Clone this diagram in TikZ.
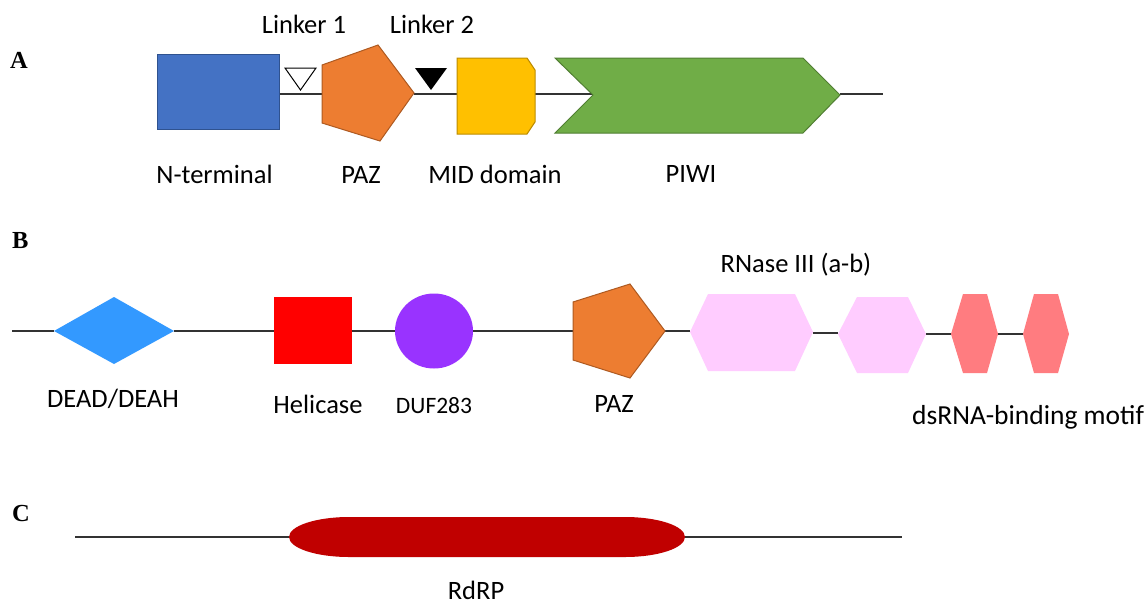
\documentclass[tikz,border=0pt]{standalone}
\usepackage{fontspec}
\setmainfont{Carlito}
\newfontfamily\panelfont{Liberation Serif}
\begin{document}
\begin{tikzpicture}[x=1pt,y=-1pt,
  link/.style={draw=black!80,line width=1.3pt},
  lbl/.style={anchor=base,inner sep=0pt,font=\fontsize{26.5}{31}\selectfont},
  panel/.style={anchor=base west,inner sep=0pt,font=\panelfont\bfseries\fontsize{24.5}{29}\selectfont},
  orangeshape/.style={fill=orangeC,draw=orangeD,line width=1pt},
]
\definecolor{blueC}{HTML}{4472C4}
\definecolor{blueD}{HTML}{2F528F}
\definecolor{orangeC}{HTML}{ED7D31}
\definecolor{orangeD}{HTML}{AE5A21}
\definecolor{yellowC}{HTML}{FFC000}
\definecolor{yellowD}{HTML}{BC8C00}
\definecolor{greenC}{HTML}{70AD47}
\definecolor{greenD}{HTML}{507E32}
\definecolor{diaC}{HTML}{3399FF}
\definecolor{purpC}{HTML}{9933FF}
\definecolor{pinkC}{HTML}{FFCCFF}
\definecolor{salmC}{HTML}{FF7C80}
\definecolor{rdrpC}{HTML}{C00000}
\useasboundingbox[fill=white] (0,0) rectangle (1144,606);

% ---------------- Panel A ----------------
\node[panel] (pA) at (10,68) {A};
\coordinate (nt-e) at (279,94);
\coordinate (pazA-w) at (322,94);
\coordinate (pazA-e) at (414,94);
\coordinate (mid-w) at (457,94);
\coordinate (mid-e) at (535,94);
\coordinate (piwi-w) at (593,94);
\coordinate (piwi-e) at (840,94);
\coordinate (endA) at (883,94);
\draw[link] (nt-e) -- (pazA-w);
\draw[link] (pazA-e) -- (mid-w);
\draw[link] (mid-e) -- (piwi-w);
\draw[link] (piwi-e) -- (endA);

\fill[blueC,draw=blueD,line width=1pt] (157,54) rectangle (279,129);
\draw[fill=white,draw=black,line width=1pt] (285,68) -- (316,68) -- (300.5,90) -- cycle;
\draw[orangeshape] (378,45) -- (414,93) -- (380,141) -- (322,123) -- (322,65) -- cycle;
\fill[black] (415,68) -- (447,68) -- (431,90) -- cycle;
\draw[fill=yellowC,draw=yellowD,line width=1pt] (457,58) -- (527,58) -- (535,70) -- (535,122) -- (527,134) -- (457,134) -- cycle;
\draw[fill=greenC,draw=greenD,line width=1pt] (555,58) -- (803,58) -- (840,95) -- (803,133) -- (555,133) -- (593,95) -- cycle;

\node[lbl] (l1) at (304,33) {Linker 1};
\node[lbl] (l2) at (432,33) {Linker 2};
\node[lbl] (tnt) at (214.5,183) {N-terminal};
\node[lbl] (tpazA) at (361,183) {PAZ};
\node[lbl] (tmid) at (495,183) {MID domain};
\node[lbl] (tpiwi) at (691,182) {PIWI};

% ---------------- Panel B ----------------
\node[panel] (pB) at (12,248) {B};
\coordinate (startB) at (12,331);
\coordinate (dia-w) at (54,331);
\coordinate (dia-e) at (174,331);
\coordinate (hel-w) at (274,331);
\coordinate (hel-e) at (352,331);
\coordinate (duf-w) at (395,331);
\coordinate (duf-e) at (473,331);
\coordinate (pazB-w) at (573,331);
\coordinate (pazB-e) at (665,331);
\coordinate (r1-w) at (690,331);
\coordinate (r1-e) at (813,333);
\coordinate (r2-w) at (838,333);
\coordinate (r2-e) at (926,334);
\coordinate (d1-w) at (951,334);
\coordinate (d1-e) at (998,334);
\coordinate (d2-w) at (1023,334);
\draw[link] (startB) -- (dia-w);
\draw[link] (dia-e) -- (hel-w);
\draw[link] (hel-e) -- (duf-w);
\draw[link] (duf-e) -- (pazB-w);
\draw[link] (pazB-e) -- (r1-w);
\draw[link] (r1-e) -- (r2-w);
\draw[link] (r2-e) -- (d1-w);
\draw[link] (d1-e) -- (d2-w);

\fill[diaC] (54,331) -- (114,297) -- (174,331) -- (114,364) -- cycle;
\fill[red] (274,297) rectangle (352,364);
\fill[purpC] (434,331) ellipse [x radius=39, y radius=37.5];
\draw[orangeshape] (630,284) -- (665,331) -- (630,378) -- (573,360) -- (573,302) -- cycle;
\fill[pinkC] (690,332) -- (708,294) -- (795,294) -- (813,332) -- (795,371) -- (708,371) -- cycle;
\fill[pinkC] (838,334) -- (857,297) -- (908,297) -- (926,334) -- (908,373) -- (857,373) -- cycle;
\fill[salmC] (951,334) -- (963,294) -- (987,294) -- (998,334) -- (987,373) -- (963,373) -- cycle;
\fill[salmC] (1023,334) -- (1034,294) -- (1058,294) -- (1069,334) -- (1058,373) -- (1034,373) -- cycle;

\node[lbl] (tdead) at (113,407) {DEAD/DEAH};
\node[lbl] (thel) at (318,413) {Helicase};
\node[lbl,font=\fontsize{23.5}{28}\selectfont] (tduf) at (434,413) {DUF283};
\node[lbl] (tpazB) at (614,412) {PAZ};
\node[lbl] (trn) at (796,272) {RNase III (a-b)};
\node[lbl,anchor=base west,font=\fontsize{27.5}{32}\selectfont] (tds) at (912,424) {dsRNA-binding motif};

% ---------------- Panel C ----------------
\node[panel] (pC) at (12,521) {C};
\coordinate (startC) at (75,537);
\coordinate (rd-w) at (289,537);
\coordinate (rd-e) at (685,537);
\coordinate (endC) at (902,537);
\draw[link] (startC) -- (rd-w);
\draw[link] (rd-e) -- (endC);
\fill[rdrpC] (349,517) -- (625,517) arc[start angle=-90,end angle=90,x radius=60,y radius=20]
  -- (349,557) arc[start angle=90,end angle=270,x radius=60,y radius=20] -- cycle;
\node[lbl] (trd) at (476,599) {RdRP};
\end{tikzpicture}
\end{document}
